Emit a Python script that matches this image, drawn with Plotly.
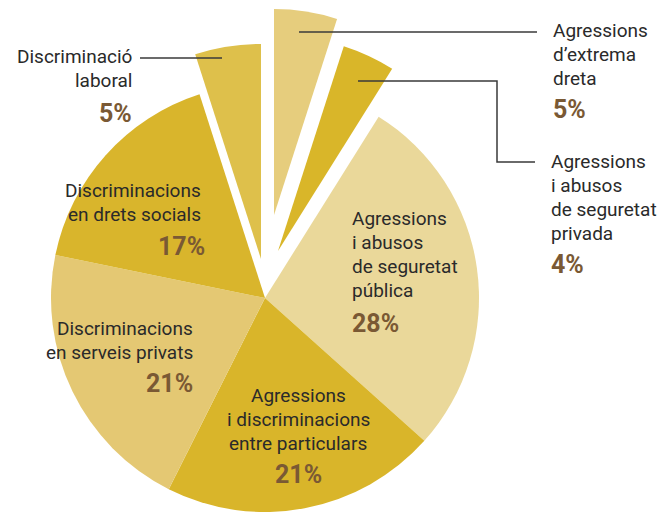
import plotly.graph_objects as go

# ---------------- data ----------------
categories = [
    "Agressions d’extrema dreta",
    "Agressions i abusos de seguretat privada",
    "Agressions i abusos de seguretat pública",
    "Agressions i discriminacions entre particulars",
    "Discriminacions en serveis privats",
    "Discriminacions en drets socials",
    "Discriminació laboral",
]
values = [5, 4, 28, 21, 21, 17, 5]
pct_labels = ["5%", "4%", "28%", "21%", "21%", "17%", "5%"]
label_lines = [
    ["Agressions", "d’extrema", "dreta"],
    ["Agressions", "i abusos", "de seguretat", "privada"],
    ["Agressions", "i abusos", "de seguretat", "pública"],
    ["Agressions", "i discriminacions", "entre particulars"],
    ["Discriminacions", "en serveis privats"],
    ["Discriminacions", "en drets socials"],
    ["Discriminació", "laboral"],
]

# ---------------- style / layout ----------------
colors = ["#e6cd7d", "#d9b629", "#ead89a", "#d9b52a", "#e4c873", "#d9b52c", "#dec04b"]
W, H = 660, 512
MAIN = (265, 298, 214)  # cx, cy, R of the main pie (px)
# exploded slices: index -> (cx, cy, R) of their own displaced wedge tip
EXPLODED = {0: (274, 215, 206), 1: (278, 251, 215), 6: (261, 259, 215)}

TEXT_COLOR = "#2a2a2a"
PCT_COLOR = "#7a5934"
FONT = "Roboto, 'Liberation Sans', sans-serif"
TXT_SIZE, PCT_SIZE, LINE_H = 19, 25, 24

# label placement: x, xanchor, baseline of first line, baseline of pct, x of pct
PLACE = {
    0: (551, "left", 37, 118, 551),
    1: (549, "left", 168, 273, 549),
    2: (350, "left", 225, 332, 350),
    3: (298, "center", 402, 483, 298),
    4: (195, "right", 335, 392, 195),
    5: (203, "right", 197, 255, 207),
    6: (134, "right", 63, 122, 134),
}

fig = go.Figure()


def add_pie(cx, cy, R, visible_idx):
    cols = [colors[i] if i in visible_idx else "rgba(0,0,0,0)" for i in range(len(values))]
    fig.add_trace(go.Pie(
        labels=categories, values=values, sort=False, direction="clockwise", rotation=0,
        marker=dict(colors=cols, line=dict(width=0)),
        textinfo="none", hoverinfo="label+percent", showlegend=False,
        domain=dict(x=[(cx - R) / W, (cx + R) / W], y=[1 - (cy + R) / H, 1 - (cy - R) / H]),
    ))


main_idx = [i for i in range(len(values)) if i not in EXPLODED]
add_pie(*MAIN, main_idx)
for i, (cx, cy, R) in EXPLODED.items():
    add_pie(cx, cy, R, [i])

annotations = []
for i, (x, anc, y0, ypct, xpct) in PLACE.items():
    for k, line in enumerate(label_lines[i]):
        yb = y0 + k * LINE_H
        annotations.append(dict(
            x=x / W, y=1 - (yb - 7) / H, xref="paper", yref="paper",
            text=line, showarrow=False, xanchor=anc, yanchor="middle",
            font=dict(family=FONT, size=TXT_SIZE, color=TEXT_COLOR),
        ))
    annotations.append(dict(
        x=xpct / W, y=1 - (ypct - 9) / H, xref="paper", yref="paper",
        text="<b>" + pct_labels[i] + "</b>", showarrow=False, xanchor=anc, yanchor="middle",
        font=dict(family=FONT, size=PCT_SIZE, color=PCT_COLOR),
    ))

LINE = dict(color="#3a3a3a", width=1.5)


def px(x, y):
    return x / W, 1 - y / H


shapes = []
x0, y0 = px(299, 32); x1, y1 = px(537, 32)
shapes.append(dict(type="line", xref="paper", yref="paper", x0=x0, y0=y0, x1=x1, y1=y1, line=LINE))
x0, y0 = px(140, 58); x1, y1 = px(222, 58)
shapes.append(dict(type="line", xref="paper", yref="paper", x0=x0, y0=y0, x1=x1, y1=y1, line=LINE))
pts = [px(358, 81), px(497, 81), px(497, 162), px(535, 162)]
path = "M " + " L ".join(f"{a},{b}" for a, b in pts)
shapes.append(dict(type="path", xref="paper", yref="paper", path=path, line=LINE))

fig.update_layout(
    width=W, height=H, margin=dict(l=0, r=0, t=0, b=0),
    paper_bgcolor="white", plot_bgcolor="white",
    annotations=annotations, shapes=shapes, showlegend=False,
)

fig.write_html(
    "out.html",
    config={"displayModeBar": False},
    post_script="document.body.style.margin='0';document.body.style.overflow='hidden';",
)
